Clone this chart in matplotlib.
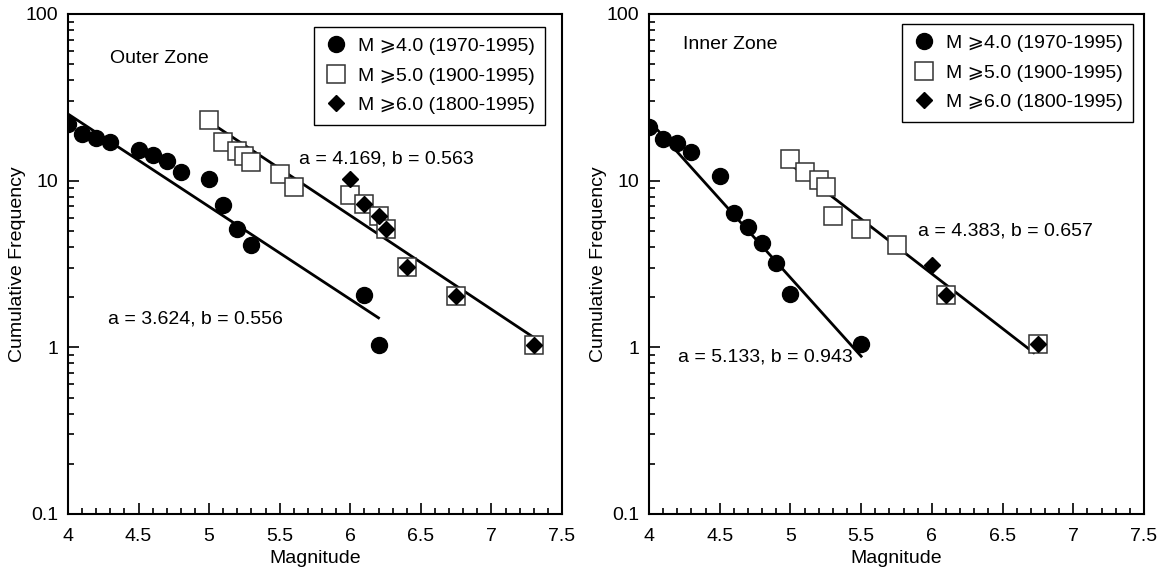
import matplotlib
matplotlib.use('Agg')
import numpy as np
import matplotlib.pyplot as plt
from matplotlib.ticker import MultipleLocator, LogLocator, FixedLocator, FixedFormatter, NullFormatter

plt.rcParams['font.family'] = ['Liberation Sans', 'DejaVu Sans']
plt.rcParams['font.size'] = 14

# Outer zone (left panel)
outer_m4_mag = [4.0, 4.1, 4.2, 4.3, 4.5, 4.6, 4.7, 4.8, 5.0, 5.1, 5.2, 5.3, 6.1, 6.2]
outer_m4_n = [22, 19, 18, 17, 15.3, 14.3, 13.1, 11.3, 10.2, 7.1, 5.1, 4.1, 2.05, 1.03]
outer_m5_mag = [5.0, 5.1, 5.2, 5.25, 5.3, 5.5, 5.6, 6.0, 6.1, 6.2, 6.25, 6.4, 6.75, 7.3]
outer_m5_n = [23, 17, 15, 14, 13, 11, 9.2, 8.2, 7.2, 6.1, 5.1, 3.05, 2.03, 1.03]
outer_m6_mag = [6.0, 6.1, 6.2, 6.25, 6.4, 6.75, 7.3]
outer_m6_n = [10.2, 7.2, 6.1, 5.1, 3.05, 2.03, 1.03]
outer_fit4 = (3.624, 0.556, 4.0, 6.2)
outer_fit5 = (4.169, 0.563, 5.0, 7.3)

# Inner zone (right panel)
inner_m4_mag = [4.0, 4.1, 4.2, 4.3, 4.5, 4.6, 4.7, 4.8, 4.9, 5.0, 5.5]
inner_m4_n = [21, 17.8, 16.9, 14.9, 10.7, 6.4, 5.3, 4.2, 3.2, 2.1, 1.05]
inner_m5_mag = [5.0, 5.1, 5.2, 5.25, 5.3, 5.5, 5.75, 6.1, 6.75]
inner_m5_n = [13.5, 11.3, 10.1, 9.1, 6.1, 5.1, 4.1, 2.05, 1.05]
inner_m6_mag = [6.0, 6.1, 6.75]
inner_m6_n = [3.1, 2.05, 1.05]
inner_fit4 = (5.133, 0.943, 4.0, 5.5)
inner_fit5 = (4.383, 0.657, 5.0, 6.72)

labels = ['M \u2a7e4.0 (1970-1995)', 'M \u2a7e5.0 (1900-1995)', 'M \u2a7e6.0 (1800-1995)']
ytick_vals = [0.1, 1, 10, 100]
ytick_labels = ['0.1', '1', '10', '100']

fig = plt.figure(figsize=(11.62, 5.72), dpi=100)
ax1 = fig.add_axes([68 / 1162, 58 / 572, 494 / 1162, 500 / 572])
ax2 = fig.add_axes([649 / 1162, 58 / 572, 495 / 1162, 500 / 572])


def fit_line(ax, fit):
    a, b, m0, m1 = fit
    m = np.array([m0, m1])
    ax.plot(m, 10 ** (a - b * m), color='black', lw=2.0, zorder=2)


def panel(ax, m4, n4, m5, n5, m6, n6, fits, zone, zone_pos, notes, leg_anchor):
    for f in fits:
        fit_line(ax, f)
    ax.plot(m4, n4, 'o', color='black', ms=11.5, ls='none', zorder=3, label=labels[0])
    ax.plot(m5, n5, 's', mfc='white', mec='#333333', mew=1.1, ms=12.5, ls='none', zorder=3, label=labels[1])
    ax.plot(m6, n6, 'D', color='black', ms=8.5, ls='none', zorder=4, label=labels[2])
    ax.set_yscale('log')
    ax.set_xlim(4, 7.5)
    ax.set_ylim(0.1, 100)
    ax.xaxis.set_major_locator(MultipleLocator(0.5))
    ax.xaxis.set_minor_locator(MultipleLocator(0.1))
    ax.xaxis.set_major_formatter(plt.FuncFormatter(lambda v, p: ('%g' % v)))
    ax.yaxis.set_major_locator(FixedLocator(ytick_vals))
    ax.yaxis.set_major_formatter(FixedFormatter(ytick_labels))
    ax.yaxis.set_minor_locator(LogLocator(base=10, subs=np.arange(2, 10), numticks=20))
    ax.yaxis.set_minor_formatter(NullFormatter())
    ax.tick_params(which='both', direction='in', top=False, right=False, width=1.2, labelsize=14)
    ax.tick_params(which='major', length=8)
    ax.tick_params(axis='x', which='major', pad=10)
    ax.tick_params(axis='y', which='major', pad=7)
    ax.tick_params(which='minor', length=4.5)
    for s in ax.spines.values():
        s.set_linewidth(1.5)
    ax.set_xlabel('Magnitude', fontsize=14, labelpad=4)
    ax.set_ylabel('Cumulative Frequency', fontsize=14)
    ax.yaxis.set_label_coords(-0.085, 0.5)
    ax.text(zone_pos[0], zone_pos[1], zone, fontsize=14, ha='left', va='center')
    for (x, y, t) in notes:
        ax.text(x, y, t, fontsize=14, ha='left', va='center')
    leg = ax.legend(loc='upper right', bbox_to_anchor=leg_anchor, borderaxespad=0,
                    fancybox=False, edgecolor='black', framealpha=1, fontsize=14,
                    handletextpad=0.5, handlelength=1.2, borderpad=0.55, labelspacing=0.6)
    leg.get_frame().set_linewidth(1.0)


panel(ax1, outer_m4_mag, outer_m4_n, outer_m5_mag, outer_m5_n, outer_m6_mag, outer_m6_n,
      [outer_fit4, outer_fit5], 'Outer Zone', (4.30, 54),
      [(5.64, 13.5, 'a = 4.169, b = 0.563'), (4.28, 1.47, 'a = 3.624, b = 0.556')],
      (0.966, 0.974))
panel(ax2, inner_m4_mag, inner_m4_n, inner_m5_mag, inner_m5_n, inner_m6_mag, inner_m6_n,
      [inner_fit4, inner_fit5], 'Inner Zone', (4.24, 66),
      [(5.90, 4.98, 'a = 4.383, b = 0.657'), (4.205, 0.87, 'a = 5.133, b = 0.943')],
      (0.978, 0.98))

fig.savefig('out.png', dpi=100)
